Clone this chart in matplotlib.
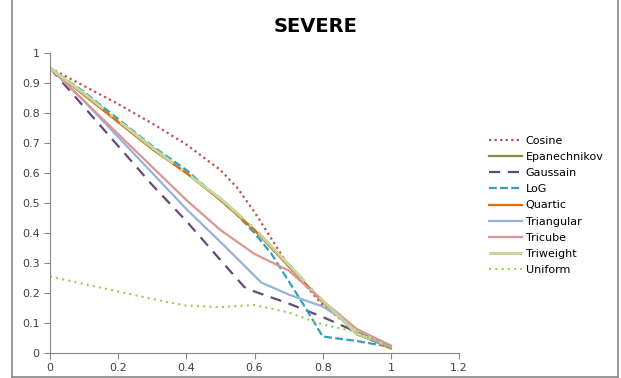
import matplotlib
matplotlib.use("Agg")
import matplotlib.pyplot as plt
from matplotlib.lines import Line2D

# values
cosine_x = [0, 0.1, 0.2, 0.3, 0.4, 0.5, 0.55, 0.6, 0.65, 0.7, 0.75, 0.8, 0.9, 1.0]
cosine_y = [0.95, 0.89, 0.83, 0.765, 0.695, 0.61, 0.55, 0.47, 0.38, 0.29, 0.225, 0.16, 0.07, 0.02]

epan_x = [0, 0.1, 0.2, 0.3, 0.4, 0.5, 0.6, 0.7, 0.8, 0.85, 0.9, 1.0]
epan_y = [0.95, 0.86, 0.77, 0.68, 0.60, 0.51, 0.41, 0.29, 0.17, 0.12, 0.062, 0.02]

gauss_x = [0, 0.1, 0.2, 0.3, 0.4, 0.5, 0.57, 0.6, 0.7, 0.8, 0.9, 1.0]
gauss_y = [0.95, 0.82, 0.69, 0.56, 0.44, 0.31, 0.22, 0.205, 0.165, 0.12, 0.07, 0.02]

log_x = [0, 0.1, 0.2, 0.3, 0.4, 0.5, 0.55, 0.6, 0.65, 0.7, 0.75, 0.8, 0.9, 1.0]
log_y = [0.95, 0.87, 0.78, 0.69, 0.61, 0.51, 0.46, 0.40, 0.33, 0.24, 0.15, 0.055, 0.04, 0.02]

quartic_x = [0, 0.1, 0.2, 0.3, 0.4, 0.5, 0.6, 0.7, 0.8, 0.85, 0.9, 1.0]
quartic_y = [0.95, 0.86, 0.77, 0.68, 0.60, 0.51, 0.41, 0.29, 0.17, 0.12, 0.065, 0.015]

tri_x = [0, 0.1, 0.2, 0.3, 0.4, 0.5, 0.62, 0.7, 0.8, 0.85, 0.9, 1.0]
tri_y = [0.95, 0.84, 0.72, 0.60, 0.48, 0.37, 0.235, 0.195, 0.155, 0.12, 0.065, 0.02]

tricube_x = [0, 0.1, 0.2, 0.3, 0.4, 0.5, 0.6, 0.7, 0.8, 0.9, 1.0]
tricube_y = [0.95, 0.84, 0.73, 0.62, 0.51, 0.41, 0.33, 0.275, 0.175, 0.08, 0.025]

triw_x = [0, 0.1, 0.2, 0.3, 0.4, 0.5, 0.6, 0.7, 0.8, 0.85, 0.9, 1.0]
triw_y = [0.95, 0.865, 0.775, 0.685, 0.60, 0.515, 0.415, 0.295, 0.175, 0.12, 0.065, 0.02]

unif_x = [0, 0.1, 0.2, 0.3, 0.4, 0.5, 0.6, 0.7, 0.8, 0.9, 1.0]
unif_y = [0.255, 0.23, 0.205, 0.18, 0.158, 0.153, 0.16, 0.135, 0.095, 0.07, 0.015]

fig = plt.figure(figsize=(6.21, 3.78), dpi=100)
ax = fig.add_axes([50 / 621, 25 / 378, 409 / 621, 300 / 378])

ax.plot(cosine_x, cosine_y, color='#C0504D', lw=1.6, ls=(0, (1, 1.5)), label='Cosine')
ax.plot(epan_x, epan_y, color='#77933C', lw=1.6, label='Epanechnikov')
ax.plot(gauss_x, gauss_y, color='#604A7B', lw=1.6, ls=(0, (5, 3.5)), label='Gaussain')
ax.plot(log_x, log_y, color='#31A0BE', lw=1.6, ls=(0, (3.5, 1.5)), label='LoG')
ax.plot(quartic_x, quartic_y, color='#E46C0A', lw=1.6, label='Quartic')
ax.plot(tri_x, tri_y, color='#95B3D7', lw=1.6, label='Triangular')
ax.plot(tricube_x, tricube_y, color='#D99694', lw=1.6, label='Tricube')
ax.plot(triw_x, triw_y, color='#C3D69B', lw=2.2, ls=(0, (22, 3, 1, 3)), label='Triweight')
ax.plot(unif_x, unif_y, color='#92D050', lw=1.5, ls=(0, (1, 2)), label='Uniform')

ax.set_xlim(0, 1.2)
ax.set_ylim(0, 1)
ax.set_xticks([0, 0.2, 0.4, 0.6, 0.8, 1, 1.2])
ax.set_xticklabels(['0', '0.2', '0.4', '0.6', '0.8', '1', '1.2'])
ax.set_yticks([0, 0.1, 0.2, 0.3, 0.4, 0.5, 0.6, 0.7, 0.8, 0.9, 1])
ax.set_yticklabels(['0', '0.1', '0.2', '0.3', '0.4', '0.5', '0.6', '0.7', '0.8', '0.9', '1'])
ax.tick_params(labelsize=8, colors='#404040', color='#868686', length=4, width=0.8)
for s in ['top', 'right']:
    ax.spines[s].set_visible(False)
for s in ['left', 'bottom']:
    ax.spines[s].set_color('#868686')

fig.text(316 / 621, 1 - 27 / 378, 'SEVERE', ha='center', va='center',
         fontsize=14, fontweight='bold')

ax.legend(loc='upper left', bbox_to_anchor=(479 / 621, 1 - 126 / 378),
          bbox_transform=fig.transFigure, frameon=False, fontsize=8,
          handlelength=3.0, handletextpad=0.3, labelspacing=0.55)

# outer chart frame
fig.add_artist(Line2D([12 / 621, 12 / 621], [0.003, 1], color='#868686', lw=1.2))
fig.add_artist(Line2D([618 / 621, 618 / 621], [0.003, 1], color='#868686', lw=1.2))
fig.add_artist(Line2D([12 / 621, 618 / 621], [0.003, 0.003], color='#868686', lw=1.2))

fig.savefig('out.png', dpi=100)
